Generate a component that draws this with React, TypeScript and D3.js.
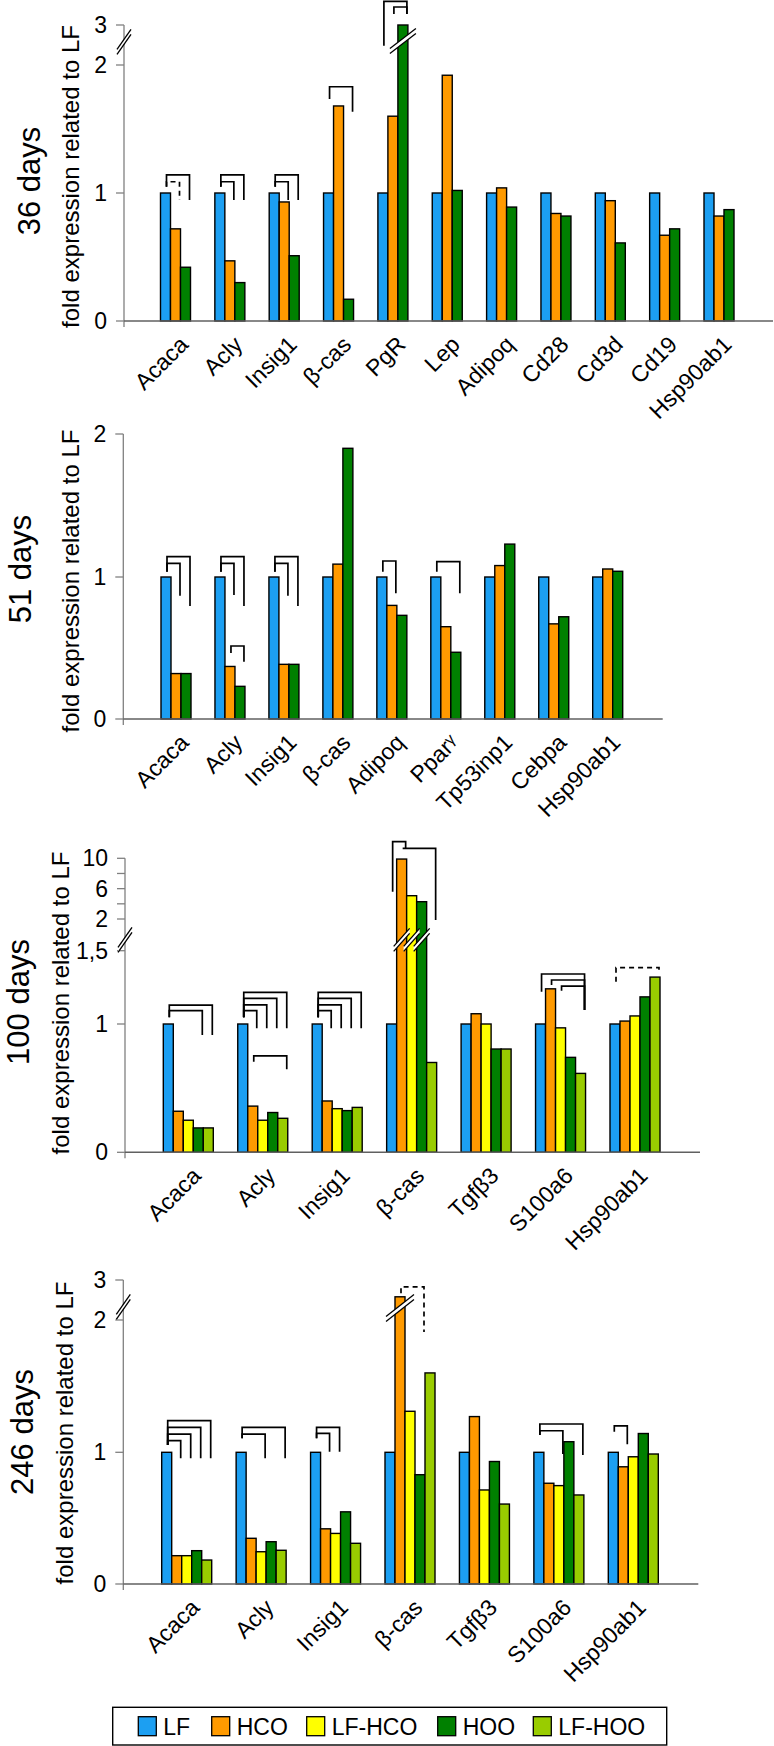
import * as d3 from "d3";

// ---- data -------------------------------------------------------------
const groups3 = ["LF", "HCO", "HOO"];
const groups5 = ["LF", "HCO", "LF-HCO", "HOO", "LF-HOO"];

const genes36 = ["Acaca", "Acly", "Insig1", "β-cas", "PgR", "Lep", "Adipoq", "Cd28", "Cd3d", "Cd19", "Hsp90ab1"];
const values36 = [
  [1, 0.72, 0.42],
  [1, 0.47, 0.3],
  [1, 0.93, 0.51],
  [1, 1.68, 0.17],
  [1, 1.6, 3.0],
  [1, 1.92, 1.02],
  [1, 1.04, 0.89],
  [1, 0.84, 0.82],
  [1, 0.94, 0.61],
  [1, 0.67, 0.72],
  [1, 0.82, 0.87],
];
const ticks36 = [0, 1, 2, 3];
const tickLabels36 = ["0", "1", "2", "3"];

const genes51 = ["Acaca", "Acly", "Insig1", "β-cas", "Adipoq", "Pparγ", "Tp53inp1", "Cebpa", "Hsp90ab1"];
const values51 = [
  [1, 0.32, 0.32],
  [1, 0.37, 0.23],
  [1, 0.385, 0.385],
  [1, 1.09, 1.9],
  [1, 0.8, 0.73],
  [1, 0.65, 0.47],
  [1, 1.08, 1.23],
  [1, 0.67, 0.72],
  [1, 1.056, 1.04],
];
const ticks51 = [0, 1, 2];
const tickLabels51 = ["0", "1", "2"];

const genes100 = ["Acaca", "Acly", "Insig1", "β-cas", "Tgfβ3", "S100a6", "Hsp90ab1"];
const values100 = [
  [1, 0.32, 0.25, 0.19, 0.19],
  [1, 0.36, 0.25, 0.31, 0.265],
  [1, 0.4, 0.34, 0.325, 0.35],
  [1, 9.9, 5.07, 4.28, 0.7],
  [1, 1.07, 1.0, 0.805, 0.805],
  [1, 1.24, 0.97, 0.74, 0.615],
  [1, 1.02, 1.055, 1.185, 1.32],
];
const ticks100 = [0, 1, 1.5, 2, 4, 6, 8, 10];
const tickLabels100 = ["0", "1", "1,5", "2", "", "6", "", "10"];

const genes246 = ["Acaca", "Acly", "Insig1", "β-cas", "Tgfβ3", "S100a6", "Hsp90ab1"];
const values246 = [
  [1, 0.215, 0.215, 0.253, 0.182],
  [1, 0.347, 0.245, 0.321, 0.256],
  [1, 0.419, 0.384, 0.548, 0.309],
  [1, 2.58, 1.31, 0.83, 1.6],
  [1, 1.27, 0.714, 0.93, 0.607],
  [1, 0.765, 0.747, 1.08, 0.676],
  [1, 0.89, 0.966, 1.142, 0.987],
];
const ticks246 = [0, 1, 2, 3];
const tickLabels246 = ["0", "1", "2", "3"];

// significance brackets: gene, from group, to group, top, left leg end, right leg end, dashed
const brackets36 = [
  ["Acaca", "LF", "HOO", 1.141, 1.049, 0.945, false],
  ["Acaca", "LF", "HCO", 1.088, 1.049, 0.945, true],
  ["Acly", "LF", "HOO", 1.141, 1.049, 0.945, false],
  ["Acly", "LF", "HCO", 1.088, 1.049, 0.945, false],
  ["Insig1", "LF", "HOO", 1.141, 1.049, 0.945, false],
  ["Insig1", "LF", "HCO", 1.088, 1.049, 0.945, false],
  ["β-cas", "LF", "HOO", 1.83, 1.734, 1.635, false],
  ["PgR", "LF", "HOO", 3.59, 2.48, 3.275, false],
  ["PgR", "HCO", "HOO", 3.45, 3.275, 3.275, false],
];
const brackets51 = [
  ["Acaca", "LF", "HOO", 1.143, 1.037, 0.795, false],
  ["Acaca", "LF", "HCO", 1.095, 1.037, 0.868, false],
  ["Acly", "LF", "HOO", 1.143, 1.037, 0.795, false],
  ["Acly", "LF", "HCO", 1.095, 1.037, 0.873, false],
  ["Acly", "HCO", "HOO", 0.514, 0.465, 0.404, false],
  ["Insig1", "LF", "HOO", 1.143, 1.037, 0.795, false],
  ["Insig1", "LF", "HCO", 1.095, 1.037, 0.868, false],
  ["Adipoq", "LF", "HCO", 1.112, 1.037, 0.885, false],
  ["Pparγ", "LF", "HOO", 1.107, 1.037, 0.885, false],
];
const brackets100 = [
  ["Acaca", "LF", "LF-HOO", 1.129, 1.046, 0.914, false],
  ["Acaca", "LF", "HOO", 1.091, 1.046, 0.914, false],
  ["Acly", "LF", "LF-HOO", 1.216, 1.046, 0.967, false],
  ["Acly", "LF", "HOO", 1.175, 1.046, 0.967, false],
  ["Acly", "LF", "LF-HCO", 1.13, 1.046, 0.967, false],
  ["Acly", "LF", "HCO", 1.091, 1.046, 0.967, false],
  ["Acly", "HCO", "LF-HOO", 0.751, 0.706, 0.647, false],
  ["Insig1", "LF", "LF-HOO", 1.216, 1.046, 0.967, false],
  ["Insig1", "LF", "HOO", 1.175, 1.046, 0.967, false],
  ["Insig1", "LF", "LF-HCO", 1.13, 1.046, 0.967, false],
  ["Insig1", "LF", "HCO", 1.091, 1.046, 0.967, false],
  ["β-cas", "LF", "HCO", 12.19, 5.6, 11.32, false],
  ["β-cas", "HCO", "LF-HOO", 11.32, 11.32, 1.984, false],
  ["S100a6", "LF", "LF-HOO", 1.341, 1.22, 1.095, false],
  ["S100a6", "HCO", "LF-HOO", 1.3, 1.266, 1.095, false],
  ["S100a6", "LF-HCO", "LF-HOO", 1.259, 1.226, 1.095, false],
  ["Hsp90ab1", "LF", "LF-HOO", 1.384, 1.289, 1.346, true],
];
const brackets246 = [
  ["Acaca", "LF", "LF-HOO", 1.239, 1.055, 0.954, false],
  ["Acaca", "LF", "HOO", 1.189, 1.055, 0.954, false],
  ["Acaca", "LF", "LF-HCO", 1.138, 1.055, 0.954, false],
  ["Acaca", "LF", "HCO", 1.088, 1.055, 0.954, false],
  ["Acly", "LF", "LF-HOO", 1.189, 1.106, 0.954, false],
  ["Acly", "LF", "LF-HCO", 1.138, 1.106, 0.954, false],
  ["Insig1", "LF", "LF-HCO", 1.189, 1.106, 1.005, false],
  ["Insig1", "LF", "HCO", 1.143, 1.106, 1.005, false],
  ["β-cas", "HCO", "HOO", 2.83, 2.67, 1.91, true],
  ["S100a6", "LF", "LF-HOO", 1.214, 1.131, 0.98, false],
  ["S100a6", "LF", "LF-HCO", 1.163, 1.131, 0.987, false],
  ["Hsp90ab1", "LF", "HCO", 1.199, 1.156, 1.06, false],
];

// ---- styles / layout ---------------------------------------------------
const COLORS: Record<string, string> = {
  LF: "#1c9ff2",
  HCO: "#ff9a00",
  "LF-HCO": "#ffff00",
  HOO: "#008000",
  "LF-HOO": "#99cc00",
};
const FONT = "'Liberation Sans', Arial, sans-serif";
const BAR_W = 10;

const panels = [
  {
    title: "36 days", genes: genes36, groups: groups3, values: values36, brackets: brackets36,
    ticks: ticks36, tickLabels: tickLabels36,
    yDomain: [0, 1, 2, 3], yRange: [321, 193, 65, 25], xRange: [175.5, 719],
    axisX: 124, axisEnd: 773, axisBreak: 2.58,
    barBreaks: [{ gene: "PgR", groups: ["HOO"], at: 2.6 }], barBreakSize: [13, 10],
    titleX: 29.5, titleY: 181, ylabX: 70, ylabY: 176.5,
  },
  {
    title: "51 days", genes: genes51, groups: groups3, values: values51, brackets: brackets51,
    ticks: ticks51, tickLabels: tickLabels51,
    yDomain: [0, 1, 2], yRange: [719, 577, 434], xRange: [176, 607.7],
    axisX: 123.3, axisEnd: 662.7, axisBreak: null,
    barBreaks: [], barBreakSize: [13, 10],
    titleX: 20, titleY: 569, ylabX: 70, ylabY: 581,
  },
  {
    title: "100 days", genes: genes100, groups: groups5, values: values100, brackets: brackets100,
    ticks: ticks100, tickLabels: tickLabels100,
    yDomain: [0, 1, 1.5, 2, 10], yRange: [1152.3, 1024, 950.7, 919, 858.3], xRange: [188.3, 635],
    axisX: 125, axisEnd: 700, axisBreak: 1.67,
    barBreaks: [{ gene: "β-cas", groups: ["HCO", "LF-HCO", "HOO"], at: 1.67 }], barBreakSize: [8, 9],
    titleX: 18, titleY: 1002, ylabX: 60, ylabY: 1003,
  },
  {
    title: "246 days", genes: genes246, groups: groups5, values: values246, brackets: brackets246,
    ticks: ticks246, tickLabels: tickLabels246,
    yDomain: [0, 1, 2, 3], yRange: [1584, 1452.3, 1320, 1280], xRange: [186.7, 633.3],
    axisX: 123.3, axisEnd: 698.3, axisBreak: 2.33,
    barBreaks: [{ gene: "β-cas", groups: ["HCO"], at: 2.3 }], barBreakSize: [14, 11],
    titleX: 22, titleY: 1432, ylabX: 64, ylabY: 1433,
  },
];

function BreakMark({ cx, cy, hw, hh }: { cx: number; cy: number; hw: number; hh: number }) {
  const g = 5;
  const a1 = [cx - hw, cy + hh - g / 2];
  const b1 = [cx + hw, cy - hh - g / 2];
  const a2 = [cx - hw, cy + hh + g / 2];
  const b2 = [cx + hw, cy - hh + g / 2];
  return (
    <g>
      <polygon points={[a1, b1, b2, a2].map((p) => p.join(",")).join(" ")} fill="#fff" />
      <line x1={a1[0]} y1={a1[1]} x2={b1[0]} y2={b1[1]} stroke="#000" strokeWidth={1.3} />
      <line x1={a2[0]} y1={a2[1]} x2={b2[0]} y2={b2[1]} stroke="#000" strokeWidth={1.3} />
    </g>
  );
}

function GeneLabel({ name, x, y }: { name: string; x: number; y: number }) {
  const tail = name.endsWith("γ") ? "γ" : "";
  const head = tail ? name.slice(0, -1) : name;
  return (
    <text
      transform={`translate(${x},${y}) rotate(-45)`}
      textAnchor="end"
      fontSize={23}
      fontFamily={FONT}
      fill="#000"
    >
      {head}
      {tail && <tspan fontSize={16} dy={-5}>{tail}</tspan>}
    </text>
  );
}

function Panel({ p }: { p: (typeof panels)[number] }) {
  const x = d3.scalePoint<string>().domain(p.genes).range(p.xRange as [number, number]);
  const y = d3.scaleLinear().domain(p.yDomain).range(p.yRange);
  const k = p.groups.length;
  const barCenter = (gene: string, grp: string) =>
    (x(gene) as number) + (p.groups.indexOf(grp) - (k - 1) / 2) * BAR_W;
  const y0 = y(0);
  const yTop = y(d3.max(p.ticks) as number);

  return (
    <g>
      {/* titles */}
      <text
        transform={`translate(${p.titleX},${p.titleY}) rotate(-90)`}
        textAnchor="middle"
        dominantBaseline="central"
        fontSize={31}
        fontFamily={FONT}
      >
        {p.title}
      </text>
      <text
        transform={`translate(${p.ylabX},${p.ylabY}) rotate(-90)`}
        textAnchor="middle"
        dominantBaseline="central"
        fontSize={24}
        fontFamily={FONT}
      >
        fold expression related to LF
      </text>

      {/* y axis */}
      <line x1={p.axisX} x2={p.axisX} y1={yTop} y2={y0 + 6} stroke="#808080" strokeWidth={1.3} />
      {p.ticks.map((t, i) => (
        <g key={t}>
          <line x1={p.axisX - 8} x2={p.axisX} y1={y(t)} y2={y(t)} stroke="#808080" strokeWidth={1.3} />
          {p.tickLabels[i] && (
            <text
              x={p.axisX - 17}
              y={y(t)}
              textAnchor="end"
              dominantBaseline="central"
              fontSize={23}
              fontFamily={FONT}
            >
              {p.tickLabels[i]}
            </text>
          )}
        </g>
      ))}

      {/* bars */}
      {p.genes.map((gene, gi) =>
        p.groups.map((grp, si) => {
          const v = p.values[gi][si];
          const cx = barCenter(gene, grp);
          return (
            <rect
              key={gene + grp}
              x={cx - BAR_W / 2}
              y={y(v)}
              width={BAR_W}
              height={y0 - y(v)}
              fill={COLORS[grp]}
              stroke="#000"
              strokeWidth={1.4}
            />
          );
        })
      )}

      {/* x axis */}
      <line x1={p.axisX} x2={p.axisEnd} y1={y0} y2={y0} stroke="#606060" strokeWidth={1.4} />

      {/* breaks */}
      {p.barBreaks.map((b) =>
        b.groups.map((grp) => (
          <BreakMark
            key={b.gene + grp}
            cx={barCenter(b.gene, grp)}
            cy={y(b.at)}
            hw={p.barBreakSize[0]}
            hh={p.barBreakSize[1]}
          />
        ))
      )}
      {p.axisBreak != null && <BreakMark cx={p.axisX} cy={y(p.axisBreak)} hw={7} hh={10} />}

      {/* significance brackets */}
      {p.brackets.map((b, i) => {
        const [gene, from, to, top, lEnd, rEnd, dashed] = b as [string, string, string, number, number, number, boolean];
        const xl = barCenter(gene, from) + 1;
        const xr = barCenter(gene, to) + 4;
        return (
          <path
            key={i}
            d={`M${xl},${y(lEnd)}V${y(top)}H${xr}V${y(rEnd)}`}
            fill="none"
            stroke="#000"
            strokeWidth={1.7}
            strokeDasharray={dashed ? "5 4" : undefined}
          />
        );
      })}

      {/* category labels */}
      {p.genes.map((gene) => (
        <GeneLabel key={gene} name={gene} x={(x(gene) as number) + 14} y={y0 + 25} />
      ))}
    </g>
  );
}

function Legend() {
  const left = 112.7;
  const top = 1707.3;
  const offsets = [25.6, 99, 194, 325, 420.6];
  return (
    <g>
      <rect x={left} y={top} width={554} height={37.7} fill="#fff" stroke="#000" strokeWidth={1.4} />
      {groups5.map((grp, i) => (
        <g key={grp} transform={`translate(${left + offsets[i]},${top + 9.4})`}>
          <rect width={18} height={19} fill={COLORS[grp]} stroke="#000" strokeWidth={1.3} />
          <text x={25} y={18.5} fontSize={23} fontFamily={FONT}>
            {grp}
          </text>
        </g>
      ))}
    </g>
  );
}

export default function App() {
  return (
    <svg
      width={774}
      height={1746}
      viewBox="0 0 774 1746"
      style={{ position: "absolute", left: 0, top: 0, background: "#fff" }}
    >
      <rect width={774} height={1746} fill="#fff" />
      {panels.map((p) => (
        <Panel key={p.title} p={p} />
      ))}
      <Legend />
    </svg>
  );
}
